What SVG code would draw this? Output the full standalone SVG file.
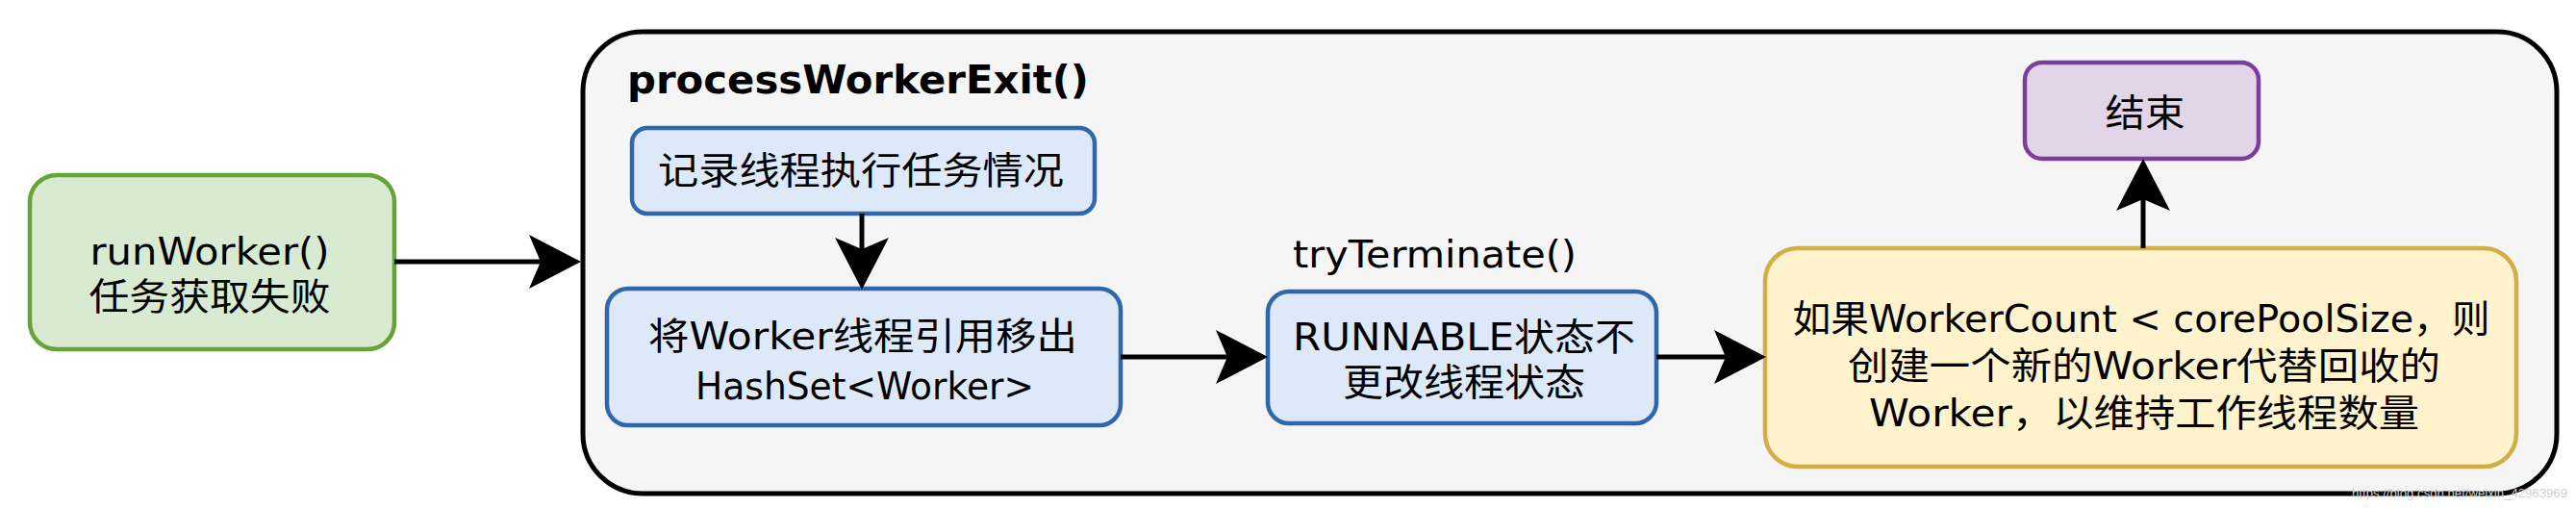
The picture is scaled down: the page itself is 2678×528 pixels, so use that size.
<svg xmlns="http://www.w3.org/2000/svg" width="2678" height="528" viewBox="0 0 2678 528">
<style>
text{font-family:"DejaVu Sans","Noto Sans CJK SC",sans-serif;font-size:39px;fill:#000;}
.c{text-anchor:middle;dominant-baseline:central;}
.b{font-weight:bold;font-size:41px;}
.green{fill:#d9ead3;stroke:#66a338;stroke-width:4.5;}
.blue{fill:#dde9f8;stroke:#2f67ad;stroke-width:4.5;}
.yellow{fill:#fff3cd;stroke:#d2ae46;stroke-width:4.5;}
.purple{fill:#e1d5e7;stroke:#7b3e9b;stroke-width:4.5;}
.edge{stroke:#000;stroke-width:5;fill:none;marker-end:url(#arr);}
.wm{font-family:"Liberation Sans",sans-serif;font-size:13px;fill:#cfcfcf;}
</style>
<defs>
<marker id="arr" markerUnits="userSpaceOnUse" viewBox="0 0 54 56" refX="12" refY="28" markerWidth="54" markerHeight="56" orient="auto">
<path d="M0,0 L54,28 L0,56 L12,28 Z" fill="#000"/>
</marker>
</defs>
<rect width="2678" height="528" fill="#fff"/>
<g id="container">
<rect x="606" y="33" width="2052" height="480" rx="62" ry="62" fill="#f5f5f5" stroke="#000" stroke-width="5"/>
<text x="652" y="97" class="b" textLength="480" lengthAdjust="spacingAndGlyphs">processWorkerExit()</text>
</g>
<g id="runWorker">
<rect x="31" y="182" width="379" height="181" rx="28" class="green"/>
<text x="218" y="261" class="c" textLength="249" lengthAdjust="spacingAndGlyphs">runWorker()</text>
<text x="218" y="308" class="c" textLength="251" lengthAdjust="spacingAndGlyphs">任务获取失败</text>
</g>
<g id="record">
<rect x="657" y="133" width="481" height="89" rx="16" class="blue"/>
<text x="895" y="177" class="c" textLength="422" lengthAdjust="spacingAndGlyphs">记录线程执行任务情况</text>
</g>
<g id="remove">
<rect x="631" y="300" width="534" height="142" rx="22" class="blue"/>
<text x="897" y="349" class="c" textLength="446" lengthAdjust="spacingAndGlyphs">将Worker线程引用移出</text>
<text x="899" y="401" class="c" textLength="352" lengthAdjust="spacingAndGlyphs">HashSet&lt;Worker&gt;</text>
</g>
<g id="tryTerminate">
<text x="1344" y="278" textLength="295" lengthAdjust="spacingAndGlyphs">tryTerminate()</text>
<rect x="1318" y="303" width="404" height="137" rx="22" class="blue"/>
<text x="1522" y="350" class="c" textLength="356" lengthAdjust="spacingAndGlyphs">RUNNABLE状态不</text>
<text x="1522" y="397" class="c" textLength="252" lengthAdjust="spacingAndGlyphs">更改线程状态</text>
</g>
<g id="addWorker">
<rect x="1835" y="258" width="781" height="227" rx="34" class="yellow"/>
<text x="2226" y="331" class="c" textLength="725" lengthAdjust="spacingAndGlyphs">如果WorkerCount &lt; corePoolSize，则</text>
<text x="2229" y="380" class="c" textLength="616" lengthAdjust="spacingAndGlyphs">创建一个新的Worker代替回收的</text>
<text x="2229" y="429" class="c" textLength="572" lengthAdjust="spacingAndGlyphs">Worker，以维持工作线程数量</text>
</g>
<g id="end">
<rect x="2105" y="65" width="243" height="100" rx="18" class="purple"/>
<text x="2230" y="117" class="c" textLength="83" lengthAdjust="spacingAndGlyphs">结束</text>
</g>
<g id="connectors">
<line x1="410" y1="272" x2="562" y2="272" class="edge"/>
<line x1="896" y1="222" x2="896" y2="259" class="edge"/>
<line x1="1165" y1="371" x2="1276" y2="371" class="edge"/>
<line x1="1722" y1="371" x2="1794" y2="371" class="edge"/>
<line x1="2228" y1="258" x2="2228" y2="207" class="edge"/>
</g>
<text x="2445" y="517" class="wm" textLength="224" lengthAdjust="spacingAndGlyphs">https://blog.csdn.net/weixin_42963969</text>
</svg>
